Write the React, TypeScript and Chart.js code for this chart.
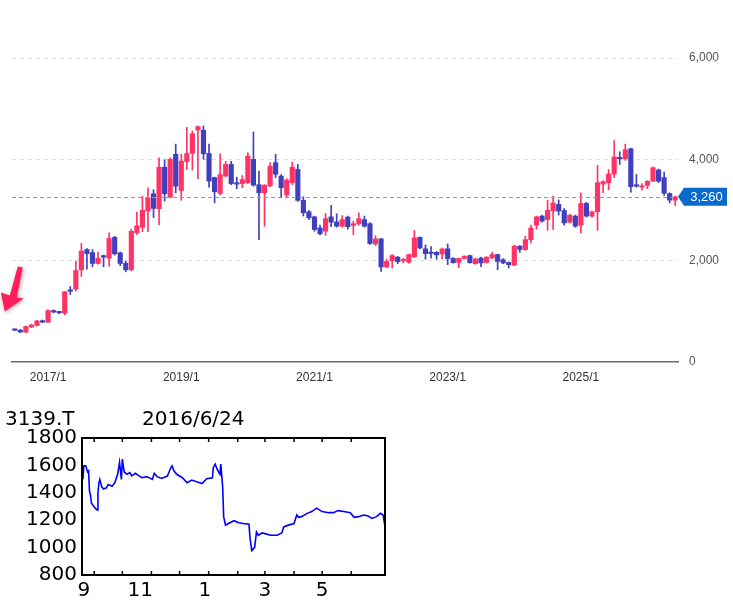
import React, { useEffect, useRef } from 'react';
import { Chart, registerables } from 'chart.js';

Chart.register(...registerables);

// ---------- main monthly candlestick data (from 2016/7) ----------
const START_YEAR = 2016;
const START_MONTH = 7;
const opens = [640, 630, 590, 690, 720, 815, 785, 1010, 995, 960, 1410, 1440, 1820, 2220, 2160, 1945, 2085, 2050, 2460, 2155,
  1950, 1820, 2550, 2660, 2980, 3320, 3025, 3845, 3255, 4100, 3385, 3955, 4120, 4580, 4575, 4115, 3640, 3330, 3670, 3900,
  3540, 3520, 3540, 4000, 3500, 3340, 3475, 3935, 3670, 3295, 3540, 3800, 3190, 2965, 2865, 2645, 2580, 2865, 2765, 2680,
  2860, 2695, 2725, 2810, 2730, 2330, 2430, 1875, 2000, 2070, 1995, 1970, 2075, 2460, 2235, 2160, 2165, 2130, 2235, 2045,
  1965, 2045, 2100, 1940, 2050, 1965, 2055, 2120, 2020, 1965, 1910, 2285, 2220, 2415, 2700, 2880, 2810, 2980, 3110, 2990,
  2760, 2880, 2700, 3130, 2880, 2965, 3510, 3540, 3710, 4030, 4010, 4210, 3490, 3450, 3485, 3570, 3790, 3640, 3325, 3195];
const highs = [650, 640, 710, 745, 820, 830, 1030, 1030, 1000, 1390, 1490, 1990, 2340, 2240, 2220, 2170, 2110, 2550, 2480, 2170,
  1990, 2620, 2960, 3270, 3440, 3400, 4030, 3990, 4030, 4300, 4100, 4630, 4560, 4660, 4660, 4300, 3650, 4110, 3960, 3960,
  3650, 3680, 4130, 4540, 3770, 3500, 3935, 4100, 3700, 3620, 3945, 3900, 3260, 2990, 2880, 2700, 2930, 3090, 2925, 2890,
  2880, 2780, 2945, 2880, 2750, 2495, 2440, 2035, 2120, 2085, 2045, 2130, 2595, 2470, 2310, 2280, 2180, 2250, 2330, 2060,
  2050, 2100, 2110, 2050, 2070, 2080, 2165, 2130, 2040, 1975, 2310, 2300, 2480, 2700, 2880, 2900, 3195, 3275, 3200, 3030,
  2920, 2900, 3340, 3150, 2980, 3880, 3580, 3800, 4370, 4150, 4300, 4220, 3700, 3520, 3580, 3850, 3810, 3750, 3340, 3275];
const lows = [620, 585, 580, 680, 710, 775, 780, 970, 950, 930, 1330, 1400, 1690, 1830, 1880, 1930, 1880, 1890, 2110, 1900,
  1780, 1800, 2520, 2570, 2570, 2850, 2710, 3175, 3240, 3340, 3190, 3800, 3790, 3620, 4000, 3450, 3140, 3300, 3650, 3500,
  3420, 3440, 3520, 3470, 2415, 2680, 3460, 3640, 3240, 3240, 3500, 3170, 2880, 2810, 2580, 2510, 2500, 2670, 2660, 2660,
  2620, 2515, 2700, 2660, 2320, 2300, 1790, 1860, 1855, 1940, 1955, 1950, 2060, 2230, 2030, 2050, 2025, 2030, 1920, 1950,
  1860, 2030, 1950, 1930, 1880, 1950, 2040, 1820, 1940, 1855, 1900, 2165, 2200, 2350, 2620, 2760, 2600, 2615, 2900, 2700,
  2740, 2660, 2550, 2860, 2860, 2600, 3340, 3400, 3640, 3900, 3980, 3350, 3450, 3390, 3420, 3560, 3540, 3290, 3140, 3090];
const closes = [625, 590, 700, 730, 810, 785, 1015, 985, 970, 1385, 1395, 1805, 2190, 2140, 1945, 2045, 2070, 2440, 2135, 1945,
  1820, 2580, 2690, 2995, 3240, 3030, 3845, 3320, 4000, 3470, 3965, 4115, 4505, 4645, 4110, 3570, 3360, 3700, 3900, 3520,
  3510, 3600, 4065, 3490, 3340, 3490, 3865, 3705, 3440, 3590, 3845, 3190, 2945, 2845, 2615, 2530, 2830, 2760, 2680, 2810,
  2670, 2730, 2830, 2680, 2340, 2430, 1875, 1985, 2100, 1980, 2005, 2120, 2450, 2250, 2140, 2140, 2115, 2230, 2040, 1960,
  2045, 2085, 1960, 2035, 1955, 2070, 2120, 1985, 1955, 1920, 2285, 2220, 2415, 2645, 2865, 2780, 2995, 3140, 2980, 2745,
  2895, 2680, 3130, 2880, 2965, 3540, 3560, 3710, 4045, 4010, 4190, 3460, 3470, 3470, 3565, 3835, 3570, 3330, 3195, 3260];

const months = opens.map((_, i) => {
  const m = START_MONTH - 1 + i;
  return `${START_YEAR + Math.floor(m / 12)}/${(m % 12) + 1}`;
});
const xTickLabels = ['2017/1', '2019/1', '2021/1', '2023/1', '2025/1'];
const yTicks = [0, 2000, 4000, 6000];
const lastPrice = closes[closes.length - 1];

// ---------- inset daily line (days since 2015/9/1) ----------
const insetTitle = '3139.T';
const insetDate = '2016/6/24';
const insetDays = [-12, -11, -9, -7, -6, -5, -4, -3, -1, 1, 3, 4, 5, 6, 8, 10, 13, 15, 19, 22, 25, 27, 29, 30, 32, 35, 38, 40,
  44, 47, 51, 56, 62, 64, 67, 72, 78, 81, 83, 85, 88, 94, 99, 104, 110, 115, 120, 126, 127, 129, 131, 134, 135, 137, 138,
  140, 143, 149, 154, 159, 165, 166, 168, 171, 173, 175, 179, 182, 188, 195, 200, 202, 207, 213, 216, 218, 221, 227, 232,
  237, 243, 250, 255, 260, 266, 273, 277, 282, 287, 292, 296, 301, 305, 308, 310];
const insetPrices = [1498, 1597, 1597, 1552, 1560, 1411, 1387, 1325, 1305, 1288, 1275, 1399, 1473, 1498, 1443, 1428, 1436,
  1461, 1448, 1473, 1535, 1622, 1498, 1646, 1552, 1535, 1547, 1523, 1542, 1527, 1510, 1518, 1498, 1542, 1518, 1505, 1522,
  1572, 1597, 1560, 1535, 1510, 1473, 1493, 1478, 1468, 1503, 1510, 1585, 1609, 1572, 1535, 1609, 1436, 1226, 1164, 1176,
  1196, 1181, 1176, 1171, 1077, 978, 1002, 1114, 1090, 1107, 1102, 1090, 1090, 1107, 1151, 1164, 1176, 1238, 1221, 1226,
  1250, 1263, 1288, 1263, 1255, 1255, 1270, 1263, 1255, 1221, 1226, 1238, 1230, 1213, 1226, 1250, 1238, 1151];
const insetMonthTicks = [0, 30, 61, 91, 122, 153, 182, 213, 243, 274];
const insetLabelDays = [-11, 49, 118, 182, 243];
const insetLabels = ['9', '11', '1', '3', '5'];
const insetYTicks = [800, 1000, 1200, 1400, 1600, 1800];

const RED = '#ff3366';
const BLUE = '#4040bf';

const priceMarker = {
  id: 'priceMarker',
  afterDatasetsDraw(chart: any) {
    const { ctx, chartArea, scales } = chart;
    const y = scales.y.getPixelForValue(lastPrice);
    ctx.save();
    ctx.strokeStyle = '#6aa3e0';
    ctx.lineWidth = 1;
    ctx.setLineDash([4, 3]);
    ctx.beginPath();
    ctx.moveTo(chartArea.left, Math.round(y) + 0.5);
    ctx.lineTo(chartArea.right, Math.round(y) + 0.5);
    ctx.stroke();
    ctx.setLineDash([]);
    const x0 = chartArea.right;
    const boxL = x0 + 6;
    const boxR = chart.width - 6;
    ctx.fillStyle = '#0a6acb';
    ctx.beginPath();
    ctx.moveTo(x0, y);
    ctx.lineTo(boxL, y - 9);
    ctx.lineTo(boxR, y - 9);
    ctx.lineTo(boxR, y + 9);
    ctx.lineTo(boxL, y + 9);
    ctx.closePath();
    ctx.fill();
    ctx.fillStyle = '#ffffff';
    ctx.font = '13px "Liberation Sans", Arial, sans-serif';
    ctx.textAlign = 'center';
    ctx.textBaseline = 'middle';
    ctx.fillText(lastPrice.toLocaleString('en-US'), (boxL + boxR) / 2 + 1, y + 1);
    ctx.restore();
  },
};

const startArrow = {
  id: 'startArrow',
  afterDatasetsDraw(chart: any) {
    const { ctx, scales } = chart;
    const tx = scales.x.getPixelForValue(0) - 10;
    const ty = scales.y.getPixelForValue(lows[0]) - 19;
    ctx.save();
    ctx.shadowColor = 'rgba(0,0,0,0.35)';
    ctx.shadowBlur = 4;
    ctx.shadowOffsetX = 1;
    ctx.shadowOffsetY = 1;
    ctx.fillStyle = '#ff1d5e';
    ctx.beginPath();
    ctx.moveTo(tx, ty);
    ctx.lineTo(tx - 4, ty - 19);
    ctx.lineTo(tx + 5, ty - 16);
    ctx.lineTo(tx + 13, ty - 45);
    ctx.lineTo(tx + 18, ty - 44);
    ctx.lineTo(tx + 12, ty - 14);
    ctx.lineTo(tx + 19, ty - 13);
    ctx.closePath();
    ctx.fill();
    ctx.restore();
  },
};

const insetFrame = {
  id: 'insetFrame',
  afterDraw(chart: any) {
    const { ctx, chartArea, scales } = chart;
    ctx.save();
    ctx.strokeStyle = '#000';
    ctx.lineWidth = 2;
    ctx.strokeRect(chartArea.left, chartArea.top, chartArea.right - chartArea.left, chartArea.bottom - chartArea.top);
    ctx.lineWidth = 1.5;
    insetMonthTicks.forEach((d) => {
      const x = scales.x.getPixelForValue(d);
      ctx.beginPath();
      ctx.moveTo(x, chartArea.top);
      ctx.lineTo(x, chartArea.top + 4);
      ctx.moveTo(x, chartArea.bottom);
      ctx.lineTo(x, chartArea.bottom - 4);
      ctx.stroke();
    });
    ctx.restore();
  },
};

export default function App() {
  const mainRef = useRef<HTMLCanvasElement>(null);
  const insetRef = useRef<HTMLCanvasElement>(null);

  useEffect(() => {
    const main = new Chart(mainRef.current as HTMLCanvasElement, {
      type: 'bar',
      data: {
        labels: months,
        datasets: [
          {
            label: 'wick',
            data: lows.map((l, i) => [l, highs[i]]) as any,
            backgroundColor: closes.map((c, i) => (c >= opens[i] ? RED : BLUE)),
            barThickness: 1,
            grouped: false,
            order: 2,
          } as any,
          {
            label: 'body',
            data: opens.map((o, i) => [o, closes[i]]) as any,
            backgroundColor: closes.map((c, i) => (c >= opens[i] ? RED : BLUE)),
            barThickness: 4.5,
            minBarLength: 1.5,
            grouped: false,
            order: 1,
          } as any,
        ],
      },
      options: {
        animation: false,
        responsive: false,
        maintainAspectRatio: false,
        layout: { padding: { left: 12, top: 58, right: 0, bottom: 0 } },
        plugins: { legend: { display: false }, tooltip: { enabled: false } },
        scales: {
          x: {
            type: 'category',
            offset: true,
            grid: { display: false, drawTicks: false },
            border: { display: true, color: '#6b6b6b', width: 1.5 },
            ticks: {
              autoSkip: false,
              maxRotation: 0,
              padding: 8,
              color: '#333',
              font: { family: '"Liberation Sans Narrow", "Arial Narrow", "Liberation Sans", Arial, sans-serif', size: 12 },
              callback: (_v: any, i: number) => (xTickLabels.includes(months[i]) ? months[i] : ''),
            },
            afterFit: (s: any) => { s.height = 38; },
          },
          y: {
            position: 'right',
            min: 0,
            max: 6000,
            afterBuildTicks: (s: any) => { s.ticks = yTicks.map((v) => ({ value: v })); },
            grid: {
              color: (c: any) => (c.tick && c.tick.value === 0 ? 'rgba(0,0,0,0)' : '#dddddd'),
              drawTicks: false,
            },
            border: { display: false, dash: [4, 4] },
            ticks: {
              padding: 11,
              color: '#555',
              font: { family: '"Liberation Sans", Arial, sans-serif', size: 12 },
              callback: (v: any) => Number(v).toLocaleString('en-US'),
            },
            afterFit: (s: any) => { s.width = 55; },
          },
        },
      },
      plugins: [priceMarker, startArrow],
    } as any);

    const inset = new Chart(insetRef.current as HTMLCanvasElement, {
      type: 'line',
      data: {
        datasets: [
          {
            data: insetDays.map((d, i) => ({ x: d, y: insetPrices[i] })),
            borderColor: '#0000ff',
            borderWidth: 1.6,
            pointRadius: 0,
            tension: 0,
          },
        ],
      },
      options: {
        animation: false,
        responsive: false,
        maintainAspectRatio: false,
        layout: { padding: { left: 0, top: 38, right: 5, bottom: 0 } },
        plugins: { legend: { display: false }, tooltip: { enabled: false } },
        scales: {
          x: {
            type: 'linear',
            min: -13,
            max: 310,
            afterBuildTicks: (s: any) => { s.ticks = insetLabelDays.map((v) => ({ value: v })); },
            grid: { display: false, drawTicks: false },
            border: { display: false },
            ticks: {
              autoSkip: false,
              maxRotation: 0,
              padding: 4,
              color: '#000',
              font: { family: '"DejaVu Sans", sans-serif', size: 20 },
              callback: (_v: any, i: number) => insetLabels[i],
            },
            afterFit: (s: any) => { s.height = 32; },
          },
          y: {
            type: 'linear',
            min: 800,
            max: 1800,
            afterBuildTicks: (s: any) => { s.ticks = insetYTicks.map((v) => ({ value: v })); },
            grid: { display: false, drawTicks: false },
            border: { display: false },
            ticks: {
              padding: 5,
              color: '#000',
              font: { family: '"DejaVu Sans", sans-serif', size: 20 },
              callback: (v: any) => String(v),
            },
            afterFit: (s: any) => { s.width = 82; },
          },
        },
      },
      plugins: [insetFrame],
    } as any);

    return () => {
      main.destroy();
      inset.destroy();
    };
  }, []);

  const titleStyle: React.CSSProperties = {
    position: 'absolute',
    top: 408,
    fontFamily: '"DejaVu Sans", sans-serif',
    fontSize: 20,
    lineHeight: '20px',
    color: '#000',
    whiteSpace: 'nowrap',
  };

  return (
    <div style={{ position: 'absolute', left: 0, top: 0, width: 733, height: 607, background: '#fff' }}>
      <canvas ref={mainRef} width={733} height={400} style={{ position: 'absolute', left: 0, top: 0, width: 733, height: 400 }} />
      <canvas ref={insetRef} width={390} height={207} style={{ position: 'absolute', left: 0, top: 400, width: 390, height: 207 }} />
      <span style={{ ...titleStyle, left: 5 }}>{insetTitle}</span>
      <span style={{ ...titleStyle, left: 142 }}>{insetDate}</span>
    </div>
  );
}
